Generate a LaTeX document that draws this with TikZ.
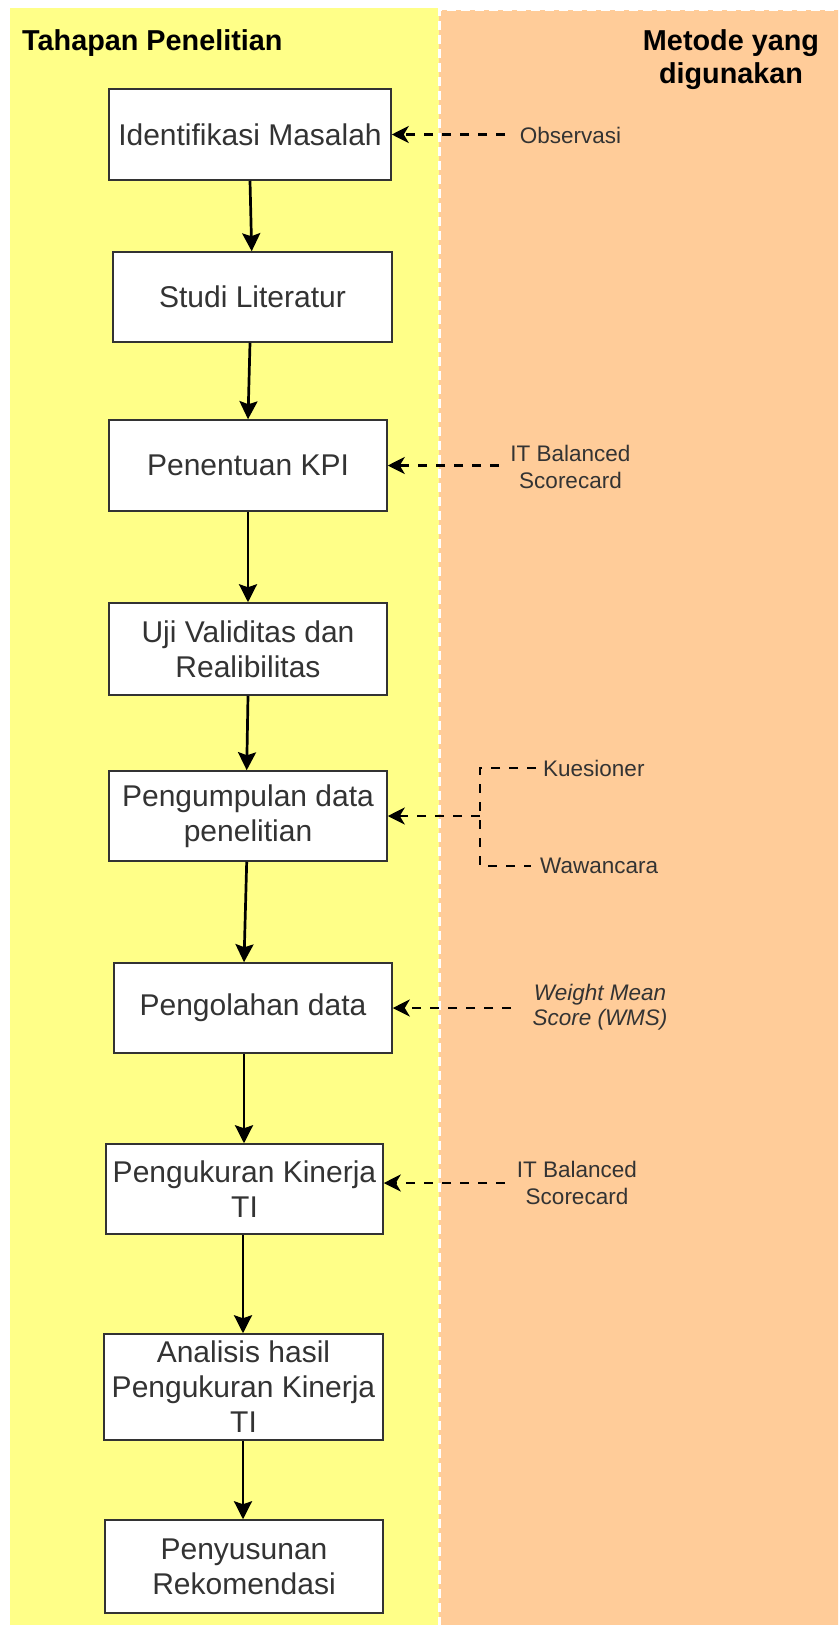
\documentclass[tikz,border=0pt]{standalone}
\usepackage{fontspec}
\setmainfont{Liberation Sans}
\usetikzlibrary{arrows.meta}
\definecolor{laneyellow}{HTML}{FFFF88}
\definecolor{laneorange}{HTML}{FFCC99}
\definecolor{inkgray}{HTML}{333333}

\begin{document}
\begin{tikzpicture}[x=1pt,y=-1pt,
  stepbox/.style={draw=inkgray, line width=1.5pt, fill=white, inner sep=0pt,
    align=center, text=inkgray, font=\fontsize{30}{35}\selectfont},
  lanetitle/.style={inner sep=0pt, align=center, text=black,
    font=\fontsize{28.8}{33}\selectfont\bfseries},
  methodlabel/.style={inner sep=0pt, align=center, text=inkgray,
    font=\fontsize{22.5}{27}\selectfont},
  flowarrow/.style={line width=2.7pt, black,
    -{Stealth[length=18pt, width=18pt, inset=3pt]}},
  dashline/.style={line width=2.9pt, black, dash pattern=on 9pt off 9pt},
  dasharrow/.style={dashline, -{Stealth[length=17pt, width=17pt, inset=5pt]}}
]
\useasboundingbox (0,0) rectangle (838,1625);
\begin{scope}
\clip (0,0) rectangle (838,1625);
\fill[white] (0,0) rectangle (838,1625);
% swimlanes
\fill[laneyellow] (10,8) rectangle (439,1640);
\fill[laneorange] (439,9.5) rectangle (850,1640);
\draw[white, line width=3pt, dash pattern=on 9pt off 5pt]
  (439,1640) -- (439,9.5) -- (850,9.5);
\end{scope}

% lane headings
\node[lanetitle, anchor=base west] (lane1) at (22,50) {Tahapan Penelitian};
\node[lanetitle, anchor=base] (lane2) at (731,83) {Metode yang\\digunakan};

% research stages
\node[stepbox, minimum width=282pt, minimum height=91pt] (b1) at (250,134.5) {Identifikasi Masalah};
\node[stepbox, minimum width=279pt, minimum height=90pt] (b2) at (252.5,297) {Studi Literatur};
\node[stepbox, minimum width=278pt, minimum height=91pt] (b3) at (248,465.5) {Penentuan KPI};
\node[stepbox, minimum width=278pt, minimum height=92pt] (b4) at (248,649) {Uji Validitas dan\\Realibilitas};
\node[stepbox, minimum width=278pt, minimum height=90pt] (b5) at (248,816) {Pengumpulan data\\penelitian};
\node[stepbox, minimum width=278pt, minimum height=90pt] (b6) at (253,1008) {Pengolahan data};
\node[stepbox, minimum width=277pt, minimum height=90pt] (b7) at (244.5,1189) {Pengukuran Kinerja\\TI};
\node[stepbox, minimum width=279pt, minimum height=106pt] (b8) at (243.5,1387) {Analisis hasil\\Pengukuran Kinerja\\TI};
\node[stepbox, minimum width=278pt, minimum height=93pt] (b9) at (244,1566.5) {Penyusunan\\Rekomendasi};

% stage flow (start x / end x of each link)
\foreach \a/\b/\xs/\xe in {b1/b2/250/251.7, b2/b3/250/248, b3/b4/248/248,
    b4/b5/248/246.7, b5/b6/246.7/244, b6/b7/244/244, b7/b8/243/243, b8/b9/243/243}
  \draw[flowarrow] (\a.south -| \xs,0) -- (\b.north -| \xe,0);

% methods
\node[methodlabel] (m1) at (570.5,135) {Observasi};
\node[methodlabel] (m2) at (570.5,466.5) {IT Balanced\\Scorecard};
\node[methodlabel, anchor=west] (m3a) at (543,768) {Kuesioner};
\node[methodlabel, anchor=west] (m3b) at (540,866) {Wawancara};
\node[methodlabel, font=\fontsize{22.5}{25}\selectfont\itshape] (m4) at (600,1007) {Weight Mean\\Score (WMS)};
\node[methodlabel] (m5) at (577,1182.5) {IT Balanced\\Scorecard};

\coordinate (t1) at (505,134.5);
\coordinate (t2) at (499,465.5);
\coordinate (fork) at (480,816);
\coordinate (t4) at (511,1008);
\coordinate (t5) at (505,1183);

\draw[dasharrow] (t1) -- (b1.east);
\draw[dasharrow] (t2) -- (b3.east);
\draw[dashline] ([xshift=-7pt]m3a.west) -| (fork) |- ([xshift=-9pt]m3b.west);
\draw[dasharrow] (fork) -- (b5.east);
\draw[dasharrow] (t4) -- (b6.east);
\draw[dasharrow] (t5) -- (b7.east |- t5);
\end{tikzpicture}
\end{document}
